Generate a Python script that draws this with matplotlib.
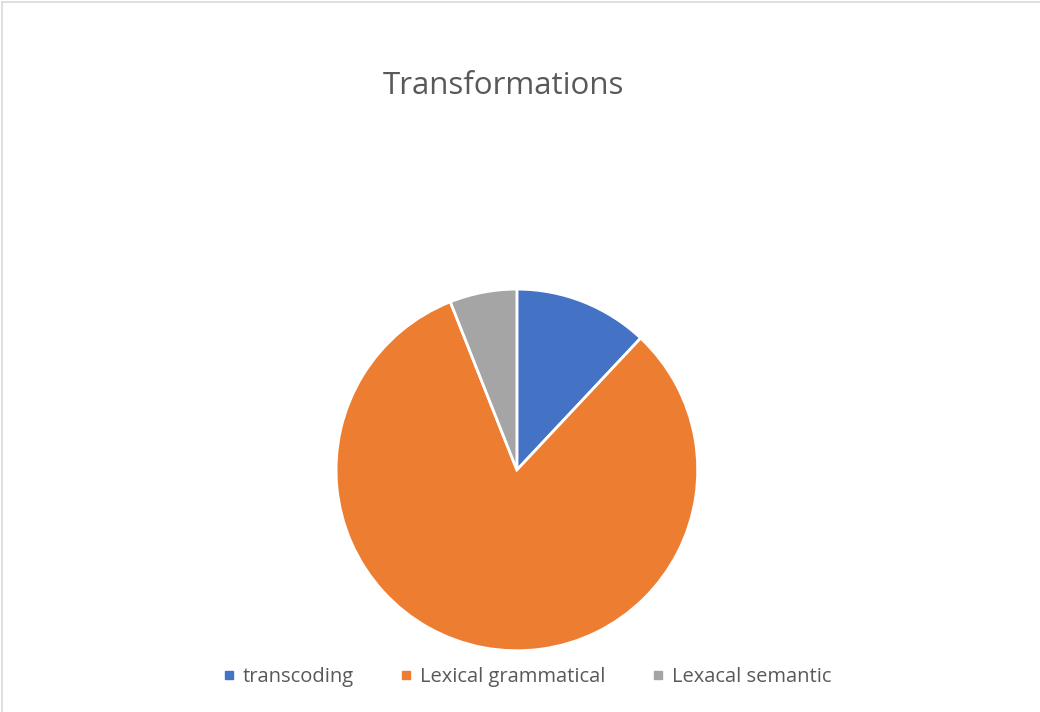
import matplotlib
matplotlib.use("Agg")
from matplotlib import pyplot as plt
from matplotlib.lines import Line2D

labels = ["transcoding", "Lexical grammatical", "Lexacal semantic"]
values = [12, 82, 6]
colors = ["#4472C4", "#ED7D31", "#A5A5A5"]

plt.rcParams['font.family'] = ['Open Sans', 'DejaVu Sans']

fig = plt.figure(figsize=(10.4, 7.12), dpi=100)

# faint chart border (top and left edges visible)
fig.add_artist(Line2D([0.002, 1], [0.997, 0.997], color="#D9D9D9", lw=1.2))
fig.add_artist(Line2D([0.002, 0.002], [0, 0.997], color="#D9D9D9", lw=1.2))

ax = fig.add_axes([0.324, 0.087, 0.346, 0.506])
ax.pie(values, colors=colors, startangle=90, counterclock=False,
       wedgeprops=dict(edgecolor="white", linewidth=2))
ax.set_xlim(-0.995, 0.995)
ax.set_ylim(-0.995, 0.995)
ax.set_aspect("equal")

fig.text(0.484, 0.879, "Transformations", ha="center", va="center",
         fontsize=22.5, color="#595959")

handles = [Line2D([], [], marker="s", ls="", color=c, markersize=6) for c in colors]
fig.legend(handles, labels, loc="center", bbox_to_anchor=(0.506, 0.049), ncol=3,
           frameon=False, fontsize=14.5, labelcolor="#595959",
           handletextpad=0.3, columnspacing=2.2, handlelength=0.8)

fig.savefig("out.png", dpi=100)
